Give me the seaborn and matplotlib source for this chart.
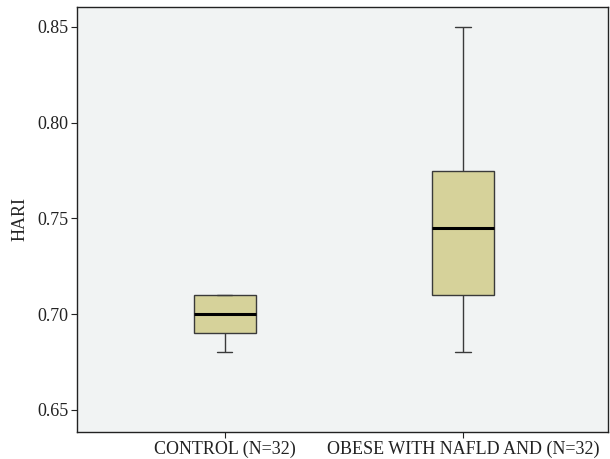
import pandas as pd
import matplotlib
matplotlib.use("Agg")
import matplotlib.pyplot as plt
import seaborn as sns

groups = ["CONTROL (N=32)", "OBESE WITH NAFLD AND (N=32)"]
control_vals = [0.68, 0.69, 0.70, 0.71, 0.71]
obese_vals = [0.68, 0.71, 0.745, 0.775, 0.85]
y_ticks = [0.65, 0.70, 0.75, 0.80, 0.85]

df = pd.DataFrame({
    "group": [groups[0]] * len(control_vals) + [groups[1]] * len(obese_vals),
    "HARI": control_vals + obese_vals,
})

sns.set_style("ticks")
plt.rcParams["font.family"] = ["Liberation Serif", "DejaVu Serif"]

fig = plt.figure(figsize=(6.1, 4.59), dpi=100)
ax = fig.add_axes([0.126, 0.059, 0.871, 0.926])
ax.set_facecolor("#f1f3f3")

sns.boxplot(
    data=df, x="group", y="HARI", ax=ax,
    color="#d6d29a", saturation=1, width=0.26,
    linecolor="#3a3a3a", linewidth=1.0,
    medianprops=dict(color="black", linewidth=2.2),
    capwidths=0.065,
)

ax.set_xlim(-0.62, 1.61)
ax.set_ylim(0.6385, 0.8605)
ax.set_yticks(y_ticks)
ax.set_yticklabels([f"{v:.2f}" for v in y_ticks])
ax.set_xlabel("")
ax.set_ylabel("HARI", fontsize=13, labelpad=6)
ax.tick_params(axis="both", labelsize=13, length=4, pad=2,
               color="#222222", labelcolor="#222222")

for side in ax.spines.values():
    side.set_color("#222222")
    side.set_linewidth(1.0)

fig.savefig("out.png", dpi=100)
